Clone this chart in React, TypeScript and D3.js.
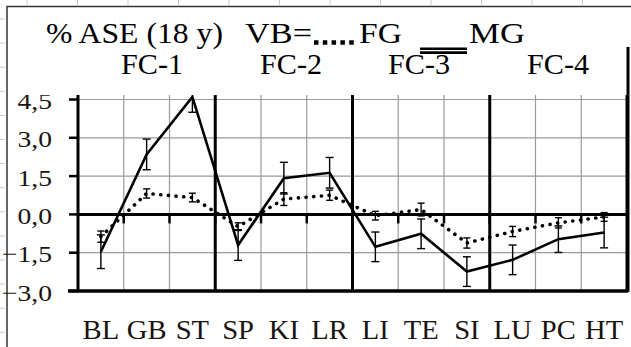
import { useEffect, useRef } from "react";
import * as d3 from "d3";

const CATEGORIES = ["BL", "GB", "ST", "SP", "KI", "LR", "LI", "TE", "SI", "LU", "PC", "HT"];
const GROUPS = ["FC-1", "FC-2", "FC-3", "FC-4"];
// solid (double-line legend) series
const MG = [-1.46, 2.35, 4.6, -1.2, 1.42, 1.63, -1.27, -0.76, -2.24, -1.78, -0.97, -0.71];
const MG_ERR = [0.66, 0.6, 0.6, 0.6, 0.62, 0.6, 0.58, 0.58, 0.58, 0.58, 0.52, 0.6];
// dotted series
const FG = [-0.87, 0.82, 0.66, -0.48, 0.6, 0.75, -0.05, 0.19, -1.12, -0.67, -0.33, -0.1];
const FG_ERR = [0.22, 0.18, 0.17, 0.15, 0.25, 0.2, 0.17, 0.25, 0.2, 0.2, 0.2, 0.17];
const Y_TICKS = [4.5, 3.0, 1.5, 0.0, -1.5, -3.0];

const W = 631;
const H = 347;
const FONT = "'Liberation Serif', 'Times New Roman', serif";

export default function App() {
  const svgRef = useRef<SVGSVGElement>(null);

  useEffect(() => {
    const svg = d3.select(svgRef.current);
    svg.selectAll("*").remove();

    const mg = { l: 78, r: 627, t: 95, b: 291 };
    const x = d3.scaleBand<string>().domain(CATEGORIES).range([mg.l, mg.r]);
    const y = d3.scaleLinear().domain([-3, 4.5]).range([291, 99.5]);
    const cx = (c: string) => (x(c) ?? 0) + x.bandwidth() / 2;

    // page rulers (light ticks outside the frame)
    d3.range(27, W, 50.5).forEach(v => {
      svg.append("line").attr("x1", v).attr("x2", v).attr("y1", 0).attr("y2", 5)
        .attr("stroke", "#c8c8c8").attr("stroke-width", 1);
    });
    d3.range(19, H, 24.1).forEach(v => {
      svg.append("line").attr("x1", 0).attr("x2", 5).attr("y1", v).attr("y2", v)
        .attr("stroke", "#c8c8c8").attr("stroke-width", 1);
    });

    // outer frame
    svg.append("path").attr("d", `M7,${H} V6.5 H${W}`)
      .attr("fill", "none").attr("stroke", "#333").attr("stroke-width", 1.5);

    // title
    const title = [
      { t: "% ASE (18 y)", x: 46, w: 177 },
      { t: "VB=", x: 245, w: 67 },
      { t: "FG", x: 359, w: 43 },
      { t: "MG", x: 469, w: 56 },
    ];
    title.forEach(d => {
      svg.append("text").attr("x", d.x).attr("y", 43).attr("font-family", FONT)
        .attr("font-size", 30).attr("textLength", d.w).attr("lengthAdjust", "spacingAndGlyphs")
        .attr("fill", "#000").text(d.t);
    });
    // legend: dotted sample
    svg.append("line").attr("x1", 314).attr("x2", 358).attr("y1", 42.5).attr("y2", 42.5)
      .attr("stroke", "#000").attr("stroke-width", 4.5).attr("stroke-dasharray", "4.5,4.3");
    // legend: double line sample
    [48.8, 52.6].forEach(v => {
      svg.append("line").attr("x1", 420).attr("x2", 467).attr("y1", v).attr("y2", v)
        .attr("stroke", "#000").attr("stroke-width", 2.6);
    });
    const fcX = [121, 260, 388, 527];
    GROUPS.forEach((g, i) => {
      svg.append("text").attr("x", fcX[i]).attr("y", 74).attr("font-family", FONT)
        .attr("font-size", 30).attr("textLength", 62).attr("lengthAdjust", "spacingAndGlyphs")
        .attr("fill", "#000").text(g);
    });

    // right edge bar
    svg.append("line").attr("x1", 628).attr("x2", 628).attr("y1", 47).attr("y2", mg.b + 1)
      .attr("stroke", "#000").attr("stroke-width", 3);

    // grid
    Y_TICKS.filter(v => v !== 0 && v !== -3).forEach(v => {
      svg.append("line").attr("x1", mg.l).attr("x2", mg.r).attr("y1", y(v)).attr("y2", y(v))
        .attr("stroke", "#9a9a9a").attr("stroke-width", 1.2);
    });
    CATEGORIES.slice(1).forEach((c, i) => {
      const bx = x(c) ?? 0;
      const thick = (i + 1) % 3 === 0;
      svg.append("line").attr("x1", bx).attr("x2", bx).attr("y1", mg.t).attr("y2", mg.b)
        .attr("stroke", thick ? "#000" : "#9a9a9a").attr("stroke-width", thick ? 3 : 1.2);
      // ticks under zero line
      svg.append("line").attr("x1", bx).attr("x2", bx).attr("y1", y(0)).attr("y2", y(0) + 9)
        .attr("stroke", "#000").attr("stroke-width", 2.5);
    });
    svg.append("line").attr("x1", mg.r).attr("x2", mg.r).attr("y1", mg.t).attr("y2", mg.b)
      .attr("stroke", "#000").attr("stroke-width", 3);

    // axes
    svg.append("line").attr("x1", mg.l).attr("x2", mg.r).attr("y1", y(0)).attr("y2", y(0))
      .attr("stroke", "#000").attr("stroke-width", 3);
    svg.append("line").attr("x1", mg.l - 10).attr("x2", mg.r + 1).attr("y1", mg.b).attr("y2", mg.b)
      .attr("stroke", "#000").attr("stroke-width", 3.5);
    svg.append("line").attr("x1", mg.l).attr("x2", mg.l).attr("y1", mg.t).attr("y2", mg.b)
      .attr("stroke", "#000").attr("stroke-width", 3);
    Y_TICKS.forEach(v => {
      svg.append("line").attr("x1", mg.l - 9).attr("x2", mg.l).attr("y1", y(v)).attr("y2", y(v))
        .attr("stroke", "#000").attr("stroke-width", 2.5);
    });

    // y labels (top one is clipped in the original)
    svg.append("clipPath").attr("id", "lblclip").append("rect")
      .attr("x", 0).attr("y", 95).attr("width", 75).attr("height", 220);
    const yl = svg.append("g").attr("clip-path", "url(#lblclip)");
    Y_TICKS.forEach(v => {
      yl.append("g").attr("transform", `translate(52,${y(v) + 9.5}) scale(1.15,1)`)
        .append("text").attr("text-anchor", "end").attr("font-family", FONT)
        .attr("font-size", 24).attr("fill", "#1a1410").text(d3.format(".1f")(v).replace(".", ","));
    });

    // x labels
    CATEGORIES.forEach(c => {
      svg.append("g").attr("transform", `translate(${cx(c)},339) scale(1.06,1)`)
        .append("text").attr("text-anchor", "middle").attr("font-family", FONT)
        .attr("font-size", 27).attr("fill", "#1a1410").text(c);
    });

    // data
    svg.append("clipPath").attr("id", "plotclip").append("rect")
      .attr("x", mg.l).attr("y", mg.t).attr("width", mg.r - mg.l).attr("height", mg.b - mg.t);
    const plot = svg.append("g").attr("clip-path", "url(#plotclip)");

    const line = d3.line<number>().x((_, i) => cx(CATEGORIES[i])).y(d => y(d));

    const errBars = (vals: number[], errs: number[], cap: number) => {
      vals.forEach((v, i) => {
        const px = cx(CATEGORIES[i]);
        const y1 = y(v + errs[i]);
        const y2 = y(v - errs[i]);
        plot.append("line").attr("x1", px).attr("x2", px).attr("y1", y1).attr("y2", y2)
          .attr("stroke", "#000").attr("stroke-width", 1.4);
        [y1, y2].forEach(yy => {
          plot.append("line").attr("x1", px - cap).attr("x2", px + cap).attr("y1", yy).attr("y2", yy)
            .attr("stroke", "#000").attr("stroke-width", 1.4);
        });
      });
    };

    plot.append("path").datum(FG).attr("d", line).attr("fill", "none")
      .attr("stroke", "#000").attr("stroke-width", 3.6).attr("stroke-linecap", "round")
      .attr("stroke-dasharray", "0.1,7.6");
    errBars(FG, FG_ERR, 3.5);

    plot.append("path").datum(MG).attr("d", line).attr("fill", "none")
      .attr("stroke", "#000").attr("stroke-width", 2.6).attr("stroke-linejoin", "miter");
    errBars(MG, MG_ERR, 4);
  }, []);

  return (
    <svg ref={svgRef} width={W} height={H}
      style={{ position: "absolute", left: 0, top: 0, background: "#fff" }} />
  );
}
